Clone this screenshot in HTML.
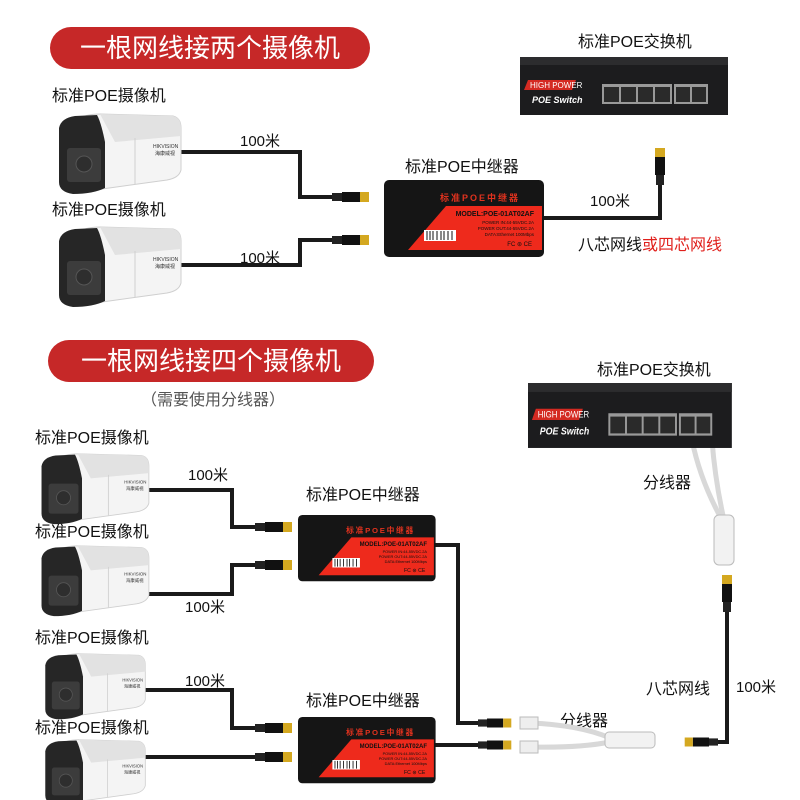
<!DOCTYPE html>
<html><head><meta charset="utf-8"><style>
body{margin:0;background:#fff;}
svg{display:block;font-family:"Liberation Sans","Noto Sans CJK SC",sans-serif;}
</style></head><body>
<svg width="800" height="800" viewBox="0 0 800 800" xmlns="http://www.w3.org/2000/svg">
<defs>
<g id="cam">
  <path d="M22 8 Q30 2 45 2 L118 4 Q126 6 126 16 L126 58 Q124 66 112 68 L40 78 L22 78 Z" fill="#f4f4f4" stroke="#cfcfcf"/>
  <path d="M45 2 L118 4 Q126 6 126 16 L126 24 L60 30 Z" fill="#e2e2e2"/>
  <line x1="80" y1="26" x2="80" y2="72" stroke="#d0d0d0"/>
  <path d="M4 16 Q6 6 20 4 L42 3 Q46 10 50 30 L50 76 Q38 82 18 82 Q4 80 4 70 Z" fill="#262626"/>
  <rect x="12" y="36" width="34" height="34" rx="3" fill="#3c3c3c"/>
  <circle cx="29" cy="52" r="8" fill="#2e2e2e" stroke="#555"/>
  <text x="98" y="36" font-size="5" fill="#333">HIKVISION</text>
  <text x="100" y="43" font-size="5" fill="#333">海康威视</text>
</g>
<g id="rep">
  <rect x="0" y="0" width="160" height="77" rx="5" fill="#151515"/>
  <polygon points="62,26 158,26 158,70 24,70" fill="#ee2a1c"/>
  <text x="96" y="21" font-size="9" fill="#e0321e" font-weight="bold" text-anchor="middle" letter-spacing="2">标准POE中继器</text>
  <text x="150" y="36" font-size="7" fill="#111" font-weight="bold" text-anchor="end">MODEL:POE-01AT02AF</text>
  <text x="150" y="44" font-size="4.5" fill="#111" text-anchor="end">POWER IN:44-55VDC.2A</text>
  <text x="150" y="50" font-size="4.5" fill="#111" text-anchor="end">POWER OUT:44-55VDC.2A</text>
  <text x="150" y="56" font-size="4.5" fill="#111" text-anchor="end">DATA:Ethernet 100Mbps</text>
  <rect x="40" y="50" width="32" height="11" fill="#fff"/>
  <g stroke="#111" stroke-width="1"><line x1="43" y1="51" x2="43" y2="60"/><line x1="46" y1="51" x2="46" y2="60"/><line x1="49" y1="51" x2="49" y2="60"/><line x1="53" y1="51" x2="53" y2="60"/><line x1="57" y1="51" x2="57" y2="60"/><line x1="60" y1="51" x2="60" y2="60"/><line x1="64" y1="51" x2="64" y2="60"/><line x1="68" y1="51" x2="68" y2="60"/></g>
  <text x="148" y="66" font-size="6" fill="#111" text-anchor="end">FC ⊛ CE</text>
</g>
<g id="sw">
  <rect x="0" y="0" width="208" height="58" fill="#1c1c1e"/>
  <rect x="0" y="0" width="208" height="8" fill="#2c2c2e"/>
  <polygon points="8,23 56,23 52,33 4,33" fill="#d42a22"/>
  <text x="10" y="31" font-size="8" fill="#fff">HIGH POWER</text>
  <text x="12" y="46" font-size="9" fill="#fff" font-style="italic" font-weight="bold">POE  Switch</text>
  <rect x="82" y="27" width="70" height="20" fill="#999"/>
  <rect x="154" y="27" width="34" height="20" fill="#999"/>
  <g fill="#2a2a2a"><rect x="84" y="30" width="15" height="15"/><rect x="101" y="30" width="15" height="15"/><rect x="118" y="30" width="15" height="15"/><rect x="135" y="30" width="15" height="15"/><rect x="156" y="30" width="14" height="15"/><rect x="172" y="30" width="14" height="15"/></g>
</g>
<g id="plug">
  <rect x="0" y="-4" width="10" height="8" fill="#222"/>
  <rect x="10" y="-5" width="18" height="10" fill="#111"/>
  <rect x="28" y="-5" width="9" height="10" fill="#d4a820"/>
</g>
</defs>

<rect x="50" y="27" width="320" height="42" rx="21" fill="#c62828"/>
<text x="210" y="57" font-size="26" fill="#fff" text-anchor="middle">一根网线接两个摄像机</text>
<rect x="48" y="340" width="326" height="42" rx="21" fill="#c62828"/>
<text x="211" y="370" font-size="26" fill="#fff" text-anchor="middle">一根网线接四个摄像机</text>
<text x="213" y="405" font-size="16" fill="#555" text-anchor="middle">（需要使用分线器）</text>

<g font-size="16" fill="#111">
<text x="52" y="101">标准POE摄像机</text>
<text x="52" y="215">标准POE摄像机</text>
<text x="405" y="172">标准POE中继器</text>
<text x="578" y="47">标准POE交换机</text>
<text x="240" y="146" font-size="15">100米</text>
<text x="240" y="263" font-size="15">100米</text>
<text x="590" y="206" font-size="15">100米</text>
<text x="578" y="250">八芯网线<tspan fill="#e0201c">或四芯网线</tspan></text>

<text x="35" y="443">标准POE摄像机</text>
<text x="35" y="537">标准POE摄像机</text>
<text x="35" y="643">标准POE摄像机</text>
<text x="35" y="733">标准POE摄像机</text>
<text x="306" y="500">标准POE中继器</text>
<text x="306" y="706">标准POE中继器</text>
<text x="597" y="375">标准POE交换机</text>
<text x="188" y="480" font-size="15">100米</text>
<text x="185" y="612" font-size="15">100米</text>
<text x="185" y="686" font-size="15">100米</text>
<text x="643" y="488">分线器</text>
<text x="560" y="726">分线器</text>
<text x="646" y="694">八芯网线</text>
<text x="736" y="692" font-size="15">100米</text>
</g>

<g fill="none" stroke="#1a1a1a" stroke-width="4">
<path d="M178 152 H300 V197 H332"/>
<path d="M178 265 H300 V240 H332"/>
<path d="M544 218 H660 V185"/>
<path d="M145 490 H232 V527 H255"/>
<path d="M135 594 H232 V565 H255"/>
<path d="M435 545 H458 V723 H478"/>
<path d="M135 690 H232 V728 H255"/>
<path d="M135 757 H255"/>
<path d="M435 745 H478"/>
<path d="M712 742 H727 V605"/>
</g>

<use href="#plug" transform="translate(332,197)"/>
<use href="#plug" transform="translate(332,240)"/>
<use href="#plug" transform="translate(660,185) rotate(-90)"/>
<use href="#plug" transform="translate(255,527)"/>
<use href="#plug" transform="translate(255,565)"/>
<use href="#plug" transform="translate(255,728)"/>
<use href="#plug" transform="translate(255,757)"/>
<use href="#plug" transform="translate(478,723) scale(0.9)"/>
<use href="#plug" transform="translate(478,745) scale(0.9)"/>
<use href="#plug" transform="translate(718,742) scale(-0.9,0.9)"/>
<use href="#plug" transform="translate(727,612) rotate(-90)"/>

<g fill="none" stroke="#d8d8d8" stroke-width="5">
<path d="M530 723 Q580 725 610 738"/>
<path d="M530 747 Q580 748 610 742"/>
<path d="M692 440 Q700 480 722 520"/>
<path d="M712 440 Q715 480 724 520"/>
</g>
<rect x="520" y="717" width="18" height="12" fill="#eee" stroke="#bbb"/>
<rect x="520" y="741" width="18" height="12" fill="#eee" stroke="#bbb"/>
<rect x="605" y="732" width="50" height="16" rx="4" fill="#f2f2f2" stroke="#bbb"/>
<rect x="714" y="515" width="20" height="50" rx="5" fill="#f2f2f2" stroke="#bbb"/>

<use href="#cam" transform="translate(55,112)"/>
<use href="#cam" transform="translate(55,225)"/>
<use href="#cam" transform="translate(38,452) scale(0.88)"/>
<use href="#cam" transform="translate(38,544) scale(0.88)"/>
<use href="#cam" transform="translate(42,652) scale(0.82)"/>
<use href="#cam" transform="translate(42,738) scale(0.82)"/>

<use href="#rep" transform="translate(384,180)"/>
<use href="#rep" transform="translate(298,515) scale(0.86,0.86)"/>
<use href="#rep" transform="translate(298,717) scale(0.86,0.86)"/>

<use href="#sw" transform="translate(520,57)"/>
<use href="#sw" transform="translate(528,383) scale(0.98,1.12)"/>
</svg>
</body></html>
